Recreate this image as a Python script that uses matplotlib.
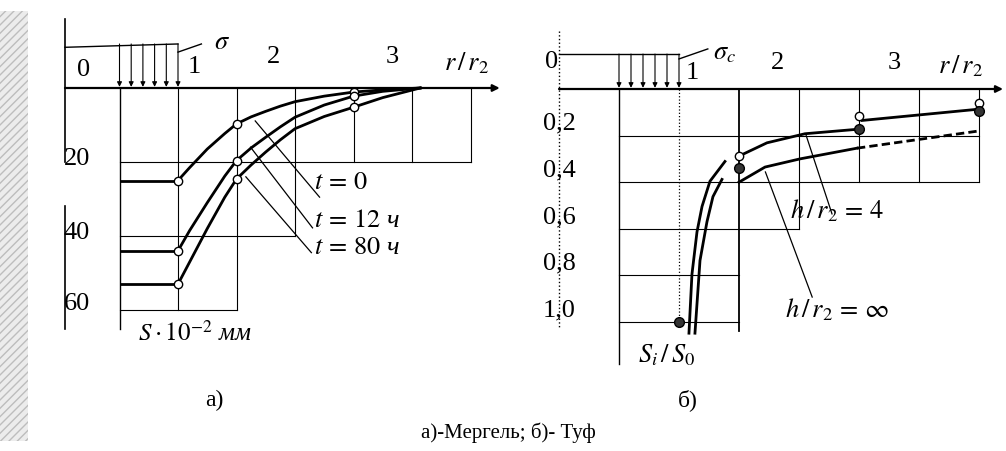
import matplotlib.pyplot as plt
import numpy as np
from matplotlib.patches import Rectangle

plt.rcParams['font.family'] = ['Liberation Serif', 'DejaVu Serif']
plt.rcParams['mathtext.fontset'] = 'stix'

# а) Мергель: осадка S (x10^-2 мм) вдоль r/r2
r_a = [1.0, 1.1, 1.25, 1.4, 1.5, 1.625, 1.75, 1.875, 2.0, 2.25, 2.5, 2.75, 3.07]
s_t0 = [25, 21.5, 16.5, 12.3, 9.7, 7.8, 6.3, 4.9, 3.7, 2.2, 1.1, 0.5, 0]
s_t12 = [44, 38.5, 31, 23.8, 19.6, 16.2, 13.3, 10.5, 7.9, 4.6, 2.2, 0.9, 0]
s_t80 = [53, 47, 38, 29.5, 24.6, 20.8, 17.3, 14.0, 11, 7.7, 5.2, 2.6, 0]
r_flat = [0.5, 1.0]
r_marks_a = [1.0, 1.5, 2.5]
labels_a = ['$t\\,=\\,0$', '$t\\,=\\,12$ ч', '$t\\,=\\,80$ ч']

# б) Туф: S_i/S_0 вдоль r/r2
r_h4_steep = [1.083, 1.108, 1.15, 1.192, 1.258, 1.383]
v_h4_steep = [1.048, 0.795, 0.613, 0.504, 0.396, 0.311]
r_h4_a = [1.5, 1.733, 2.05, 2.483]
v_h4_a = [0.288, 0.231, 0.192, 0.173]
r_h4_b = [2.525, 3.508]
v_h4_b = [0.135, 0.086]
r_inf_steep = [1.133, 1.175, 1.233, 1.283, 1.358]
v_inf_steep = [1.048, 0.736, 0.57, 0.462, 0.388]
r_inf = [1.5, 1.717, 2.008, 2.483]
v_inf = [0.4, 0.335, 0.3, 0.254]
r_inf_dash = [2.483, 3.5]
v_inf_dash = [0.254, 0.18]
r_open_b = [1.5, 2.5, 3.5]
v_open_b = [0.288, 0.114, 0.061]
r_fill_b = [1.0, 1.5, 2.5, 3.5]
v_fill_b = [1.0, 0.338, 0.171, 0.094]

W, H = 1006, 452
fig = plt.figure(figsize=(W / 100, H / 100), dpi=100)
FS = 19


def panel(px0, px1, x0, kx, y0, ky, top=370):
    ax = fig.add_axes([px0 / W, 1 - top / H, (px1 - px0) / W, top / H])
    ax.set_xlim((px0 - x0) / kx, (px1 - x0) / kx)
    ax.set_ylim((top - y0) / ky, (0 - y0) / ky)
    ax.axis('off')
    return ax


def arrow(ax, x0, y0, x1, y1, lw=1.2, ms=10):
    ax.annotate('', xy=(x1, y1), xytext=(x0, y0),
                arrowprops=dict(arrowstyle='-|>', lw=lw, color='k',
                                mutation_scale=ms, shrinkA=0, shrinkB=0))


# scan strip on the left
fig.patches.append(Rectangle((0, 10 / H), 28 / W, 430 / H, transform=fig.transFigure,
                             facecolor='#ececec', edgecolor='#bdbdbd', hatch='////', lw=0))

# ---------- a) ----------
ax = panel(0, 503, 61, 117, 89, 3.7)
k = 'k'
ax.plot([0.034, 0.034], [-18.6, 20], color=k, lw=1.2)
ax.plot([0.034, 0.034], [31.9, 65], color=k, lw=1.2)
arrow(ax, 0.034, 0, 3.75, 0, lw=1.6)
ax.plot([0.034, 1.0], [-11.0, -11.9], color=k, lw=1.0)
for xx in np.linspace(0.5, 1.0, 6):
    arrow(ax, xx, -11.9, xx, -0.3, lw=0.8, ms=7)
ax.plot([1.0, 1.2], [-9.7, -11.9], color=k, lw=1.0)

# grid
ax.plot([0.5, 0.5], [0, 65], color=k, lw=1.0)
for xx, bottom in [(1.0, 60), (1.5, 60), (2.0, 40), (2.5, 20), (3.0, 20), (3.5, 20)]:
    ax.plot([xx, xx], [0, bottom], color=k, lw=0.8)
for yy, right in [(20, 3.5), (40, 2.0), (60, 1.5)]:
    ax.plot([0.5, right], [yy, yy], color=k, lw=0.8)

for s in [s_t0, s_t12, s_t80]:
    ax.plot(r_flat, [s[0], s[0]], color=k, lw=2.0, solid_capstyle='butt')
    ax.plot(r_a, s, color=k, lw=2.0, solid_joinstyle='round')
    ax.plot(r_marks_a, [s[0], s[4], s[10]], 'o', ms=6, mfc='white', mec=k, mew=1.0)

# leaders and labels
ax.plot([1.66, 2.21], [8.9, 29.5], color=k, lw=0.9)
ax.plot([1.62, 2.15], [16, 37.8], color=k, lw=0.9)
ax.plot([1.58, 2.14], [24, 44.5], color=k, lw=0.9)
for lab, yy in zip(labels_a, [25.4, 35.7, 43.0]):
    ax.text(2.16, yy, lab, fontsize=FS, ha='left', va='center', style='italic')

for lab, yy in [('20', 19), ('40', 39), ('60', 58)]:
    ax.text(0.137, yy, lab, fontsize=FS, ha='center', va='center')
ax.text(0.19, -5.1, '0', fontsize=FS, ha='center', va='center')
ax.text(1.14, -6.0, '1', fontsize=FS, ha='center', va='center')
ax.text(1.82, -8.6, '2', fontsize=FS, ha='center', va='center')
ax.text(2.83, -8.6, '3', fontsize=FS, ha='center', va='center')
ax.text(3.47, -7.0, '$r\\,/\\,r_2$', fontsize=FS, ha='center', va='center')
ax.text(1.38, -12.3, '$\\sigma$', fontsize=FS, ha='center', va='center')
ax.text(0.66, 66, '$S\\cdot10^{-2}$ мм', fontsize=18, ha='left', va='center', style='italic')

# ---------- б) ----------
bx = panel(503, 1006, 559, 120, 90, 233)
bx.plot([0, 0], [-0.25, 1.03], color=k, lw=1.0, ls=':')
arrow(bx, 0, 0, 3.7, 0, lw=1.6)
bx.plot([0, 1.0], [-0.15, -0.15], color=k, lw=1.0)
for xx in np.linspace(0.5, 1.0, 6):
    arrow(bx, xx, -0.15, xx, -0.005, lw=0.8, ms=7)
bx.plot([1.0, 1.24], [-0.129, -0.172], color=k, lw=1.0)

bx.plot([0.5, 0.5], [0, 1.18], color=k, lw=1.0)
bx.plot([1.0, 1.0], [0, 1.0], color=k, lw=0.9, ls=':')
bx.plot([1.5, 1.5], [0, 1.04], color=k, lw=1.3)
for xx, bottom in [(2.0, 0.6), (2.5, 0.4), (3.0, 0.4), (3.5, 0.4)]:
    bx.plot([xx, xx], [0, bottom], color=k, lw=0.8)
for yy, right in [(0.2, 3.5), (0.4, 3.5), (0.6, 2.0), (0.8, 1.5), (1.0, 1.5)]:
    bx.plot([0.5, right], [yy, yy], color=k, lw=0.8)

bx.plot(r_h4_steep, v_h4_steep, color=k, lw=2.0)
bx.plot(r_h4_a, v_h4_a, color=k, lw=2.0)
bx.plot(r_h4_b, v_h4_b, color=k, lw=2.0)
bx.plot(r_inf_steep, v_inf_steep, color=k, lw=2.0)
bx.plot(r_inf, v_inf, color=k, lw=2.0)
bx.plot(r_inf_dash, v_inf_dash, color=k, lw=2.0, ls=(0, (3, 1.5)))
bx.plot(r_open_b, v_open_b, 'o', ms=6, mfc='white', mec=k, mew=1.0)
bx.plot(r_fill_b, v_fill_b, 'o', ms=7, mfc='#333333', mec=k, mew=1.0)

bx.plot([2.06, 2.275], [0.2, 0.536], color=k, lw=0.9)
bx.plot([1.72, 2.11], [0.356, 0.893], color=k, lw=0.9)
bx.text(2.32, 0.52, '$h\\,/\\,r_2\\,=\\,4$', fontsize=FS, ha='center', va='center')
bx.text(2.32, 0.944, '$h\\,/\\,r_2\\,=\\,\\infty$', fontsize=FS, ha='center', va='center')
bx.text(0.66, 1.137, '$S_i\\,/\\,S_0$', fontsize=FS, ha='left', va='center')

for lab, yy in [('0,2', 0.2), ('0,4', 0.4), ('0,6', 0.6), ('0,8', 0.8), ('1,0', 1.0)]:
    bx.text(0.0, yy - 0.055, lab, fontsize=FS, ha='center', va='center')
bx.text(-0.06, -0.12, '0', fontsize=FS, ha='center', va='center')
bx.text(1.11, -0.073, '1', fontsize=FS, ha='center', va='center')
bx.text(1.825, -0.116, '2', fontsize=FS, ha='center', va='center')
bx.text(2.79, -0.116, '3', fontsize=FS, ha='center', va='center')
bx.text(3.35, -0.1, '$r\\,/\\,r_2$', fontsize=FS, ha='center', va='center')
bx.text(1.38, -0.155, '$\\sigma_c$', fontsize=FS, ha='center', va='center')

fig.text(214 / W, 1 - 400 / H, 'а)', fontsize=17, ha='center', va='center')
fig.text(688 / W, 1 - 400 / H, 'б)', fontsize=17, ha='center', va='center')
fig.text(508 / W, 1 - 433 / H, 'а)-Мергель; б)- Туф', fontsize=15, ha='center', va='center')

fig.savefig('out.png', dpi=100)
